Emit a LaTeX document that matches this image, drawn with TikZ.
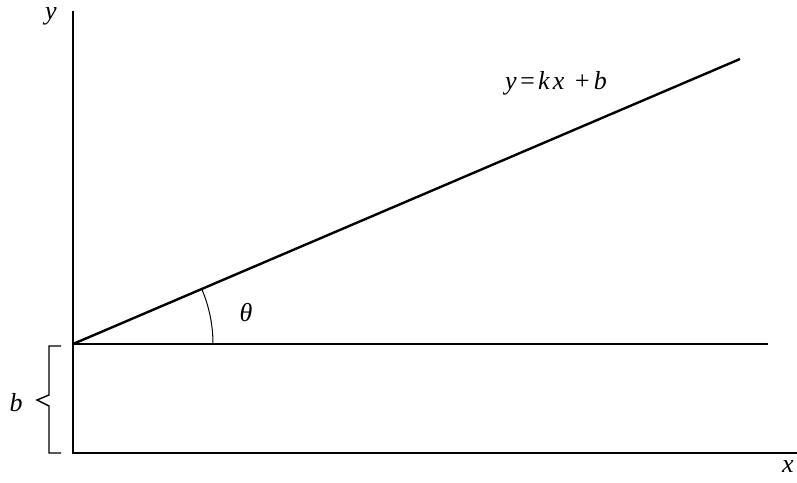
\documentclass[tikz,border=0pt]{standalone}
\usepackage{fontspec}
\setmainfont{Liberation Serif}
\usetikzlibrary{positioning, calc}

\begin{document}
\begin{tikzpicture}[
		x=1pt, y=1pt,
		axis/.style={line width=1.4pt},
		graph/.style={line width=2.4pt},
		axislabel/.style={font=\fontsize{26}{28}\selectfont\itshape, inner sep=1pt},
		]
		\useasboundingbox (0,0) rectangle (797,482);
		
		% Axes
		\coordinate (O) at (73,29);
		\coordinate (ytop) at (73,471);
		\coordinate (xend) at (797,29);
		\draw[axis] (ytop) -- (O) -- (xend);
		\node[axislabel] (ylabel) at (51,466) {y};
		\node[axislabel] (xlabel) at (788,15) {x};
		
		% Intercept level
		\coordinate (B) at (73,138);
		\coordinate (bend) at (768,138);
		\draw[axis] (B) -- (bend);
		
		% Line y=kx+b
		\coordinate (lend) at (740,423);
		\draw[graph] (B) -- (lend);
		\node[axislabel] (eq) at (556,399) {y\kern2pt=\kern2pt k\kern3pt x\kern9pt+\kern3pt b};
		
		% Angle theta
		\draw[axis, line width=1pt] ($(B)+(140,0)$) arc[start angle=0, end angle=23.1, radius=140];
		\node[axislabel] (theta) at (246,169) {θ};
		
		% Brace for b
		\draw[axis] (61,136) -- (49,136) -- (49,87) -- (37,82) -- (49,76) -- (49,29) -- (61,29);
		\node[axislabel] (blabel) at (16,79) {b};
	\end{tikzpicture}
\end{document}
